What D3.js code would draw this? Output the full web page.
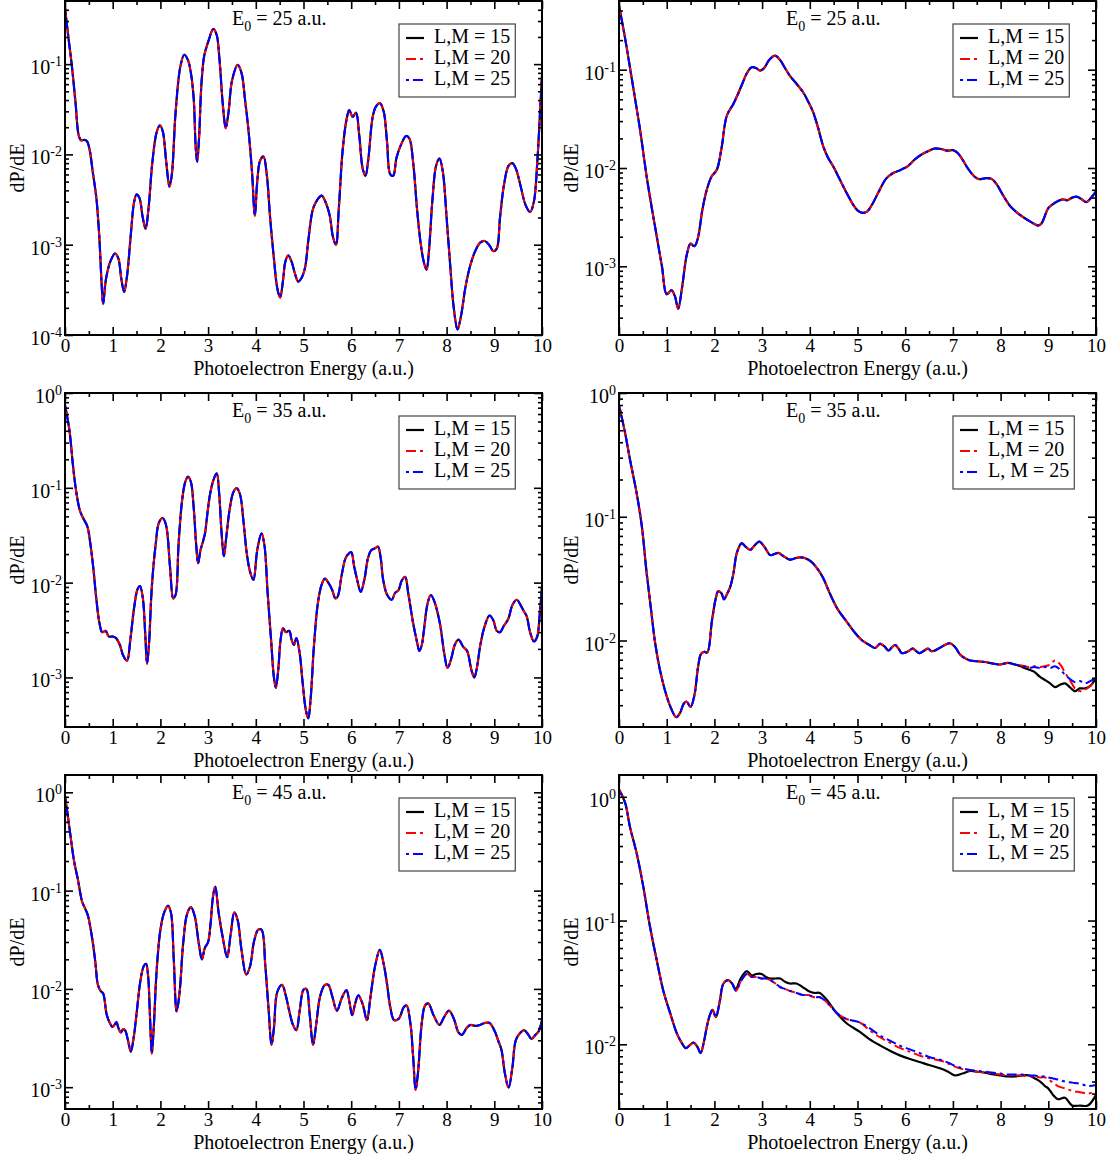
<!DOCTYPE html>
<html>
<head>
<meta charset="utf-8">
<script src="https://cdn.jsdelivr.net/npm/d3@7"></script>
<style>
  body { margin: 0; background: #fff; }
  svg { display: block; }
  text { font-family: "Liberation Serif", "Times New Roman", Times, serif; fill: #000; }
</style>
</head>
<body>
<svg id="fig" width="1108" height="1155"></svg>
<script>
// ---------- photoelectron spectra dP/dE vs energy (a.u.) ----------

// E0 = 25 a.u., left column: the three L,M runs coincide
const specA = [
  [0.00,0.42],[0.07,0.20],[0.14,0.100],[0.22,0.038],[0.29,0.016],[0.34,0.0143],[0.40,0.0145],[0.46,0.0140],
  [0.52,0.0110],[0.58,0.0065],[0.66,0.0032],[0.72,0.0012],[0.77,0.00035],[0.80,0.00022],[0.84,0.00035],
  [0.87,0.00045],[0.95,0.00065],[1.05,0.00080],[1.12,0.00070],[1.18,0.00042],[1.24,0.00030],[1.30,0.00045],
  [1.38,0.0013],[1.45,0.0030],[1.50,0.0036],[1.56,0.0033],[1.63,0.0020],[1.69,0.0015],[1.75,0.0025],
  [1.83,0.0080],[1.92,0.0175],[1.99,0.021],[2.05,0.018],[2.12,0.0085],[2.19,0.0044],[2.24,0.0060],
  [2.32,0.030],[2.42,0.095],[2.50,0.127],[2.58,0.110],[2.65,0.073],[2.70,0.040],[2.74,0.012],[2.77,0.0083],
  [2.81,0.015],[2.86,0.060],[2.92,0.125],[3.00,0.175],[3.11,0.245],[3.18,0.210],[3.24,0.110],[3.31,0.035],
  [3.37,0.0195],[3.43,0.030],[3.50,0.065],[3.62,0.098],[3.70,0.080],[3.78,0.038],[3.84,0.020],[3.92,0.0065],
  [3.98,0.0021],[4.03,0.0050],[4.09,0.0085],[4.16,0.0095],[4.23,0.0060],[4.30,0.0020],[4.38,0.0007],
  [4.45,0.00033],[4.51,0.00026],[4.57,0.00040],[4.62,0.00065],[4.68,0.00076],[4.75,0.00065],[4.82,0.00048],
  [4.89,0.00039],[4.95,0.00042],[5.03,0.00055],[5.10,0.0011],[5.20,0.0025],[5.30,0.0032],[5.38,0.0035],
  [5.47,0.0029],[5.55,0.0021],[5.62,0.0012],[5.68,0.0010],[5.74,0.0025],[5.82,0.011],[5.90,0.024],
  [5.96,0.031],[6.03,0.026],[6.10,0.029],[6.17,0.016],[6.24,0.0070],[6.30,0.0058],[6.36,0.0090],
  [6.45,0.026],[6.52,0.034],[6.60,0.037],[6.68,0.030],[6.75,0.014],[6.82,0.0060],[6.88,0.0058],
  [6.95,0.0092],[7.05,0.013],[7.15,0.016],[7.22,0.015],[7.30,0.0080],[7.38,0.0025],[7.45,0.0011],
  [7.52,0.00065],[7.58,0.00053],[7.63,0.00085],[7.70,0.0030],[7.78,0.0075],[7.85,0.0090],[7.92,0.0065],
  [8.00,0.0020],[8.08,0.00055],[8.15,0.00020],[8.23,0.000115],[8.30,0.00016],[8.40,0.00035],[8.50,0.00060],
  [8.60,0.00085],[8.70,0.00105],[8.80,0.0011],[8.90,0.00098],[8.98,0.00085],[9.05,0.0009],[9.12,0.0020],
  [9.20,0.0045],[9.30,0.0075],[9.38,0.0080],[9.45,0.0070],[9.55,0.0045],[9.65,0.0028],[9.75,0.0023],
  [9.83,0.0030],[9.90,0.0080],[9.96,0.030],[10.0,0.076]
];

// E0 = 25 a.u., right column
const specB = [
  [0.00,0.45],[0.13,0.206],[0.27,0.080],[0.44,0.0247],[0.59,0.0076],[0.80,0.0019],[0.90,0.0010],
  [1.00,0.00052],[1.10,0.00057],[1.17,0.00050],[1.24,0.00037],[1.32,0.0006],[1.42,0.0013],[1.50,0.0017],
  [1.58,0.0016],[1.65,0.0019],[1.75,0.0038],[1.84,0.0060],[1.94,0.0082],[2.05,0.0096],[2.15,0.016],
  [2.26,0.034],[2.40,0.045],[2.57,0.069],[2.68,0.092],[2.78,0.106],[2.87,0.104],[2.96,0.098],[3.05,0.105],
  [3.15,0.126],[3.27,0.139],[3.38,0.125],[3.48,0.104],[3.58,0.087],[3.72,0.072],[3.86,0.059],[3.96,0.048],
  [4.07,0.037],[4.18,0.025],[4.28,0.0167],[4.38,0.0128],[4.49,0.0104],[4.62,0.0078],[4.77,0.0056],
  [4.90,0.0043],[5.00,0.0037],[5.10,0.0035],[5.20,0.0036],[5.30,0.0042],[5.45,0.0058],[5.60,0.0078],
  [5.75,0.0089],[5.85,0.0093],[5.95,0.0098],[6.05,0.0104],[6.20,0.0122],[6.35,0.0138],[6.50,0.0150],
  [6.62,0.0158],[6.75,0.0156],[6.88,0.0150],[7.00,0.0152],[7.10,0.0142],[7.20,0.0122],[7.32,0.0098],
  [7.45,0.0082],[7.55,0.0077],[7.70,0.0079],[7.82,0.0077],[7.92,0.0068],[8.05,0.0053],[8.20,0.0041],
  [8.35,0.0035],[8.50,0.0031],[8.65,0.0028],[8.78,0.0026],[8.85,0.0027],[9.00,0.0039],[9.10,0.0043],
  [9.20,0.0046],[9.30,0.0048],[9.40,0.0047],[9.50,0.0050],[9.60,0.0051],[9.70,0.0048],[9.80,0.0045],
  [9.90,0.0050],[10.0,0.0058]
];

// E0 = 35 a.u., left column
const specC = [
  [0.00,0.75],[0.05,0.55],[0.10,0.38],[0.17,0.167],[0.23,0.095],[0.31,0.058],[0.38,0.048],[0.47,0.039],
  [0.53,0.026],[0.59,0.0148],[0.66,0.0065],[0.72,0.0038],[0.78,0.0030],[0.85,0.0031],[0.92,0.0027],
  [1.00,0.0027],[1.07,0.0026],[1.15,0.0022],[1.22,0.0017],[1.30,0.0015],[1.37,0.0025],[1.45,0.0055],
  [1.52,0.0085],[1.57,0.0092],[1.63,0.0070],[1.68,0.0030],[1.72,0.0014],[1.76,0.0022],[1.82,0.0090],
  [1.90,0.025],[1.97,0.043],[2.05,0.048],[2.12,0.040],[2.20,0.015],[2.27,0.0068],[2.32,0.0075],
  [2.38,0.025],[2.45,0.070],[2.52,0.115],[2.58,0.131],[2.64,0.115],[2.70,0.060],[2.75,0.025],[2.79,0.016],
  [2.84,0.022],[2.90,0.028],[2.94,0.034],[2.97,0.046],[3.04,0.085],[3.11,0.120],[3.18,0.142],[3.23,0.090],
  [3.28,0.035],[3.33,0.019],[3.38,0.030],[3.46,0.063],[3.53,0.090],[3.60,0.099],[3.67,0.085],[3.74,0.045],
  [3.81,0.0205],[3.88,0.013],[3.95,0.0107],[4.03,0.022],[4.12,0.033],[4.18,0.025],[4.25,0.0075],
  [4.32,0.0025],[4.38,0.0010],[4.42,0.00078],[4.47,0.0012],[4.52,0.0025],[4.57,0.0033],[4.63,0.0030],
  [4.70,0.0031],[4.75,0.0025],[4.80,0.0022],[4.85,0.0026],[4.92,0.0018],[4.98,0.0009],[5.05,0.00045],
  [5.10,0.00037],[5.15,0.0006],[5.22,0.0022],[5.30,0.0060],[5.38,0.0095],[5.45,0.011],[5.53,0.0098],
  [5.60,0.0084],[5.67,0.0068],[5.72,0.0072],[5.80,0.012],[5.88,0.018],[5.94,0.020],[6.00,0.021],
  [6.06,0.015],[6.12,0.011],[6.20,0.0080],[6.28,0.011],[6.35,0.018],[6.42,0.022],[6.50,0.023],[6.56,0.024],
  [6.62,0.018],[6.67,0.0107],[6.75,0.0075],[6.85,0.0066],[6.92,0.0078],[6.99,0.0083],[7.06,0.0105],
  [7.13,0.0115],[7.20,0.0075],[7.30,0.0037],[7.37,0.0025],[7.43,0.0019],[7.48,0.0022],[7.52,0.0030],
  [7.60,0.0060],[7.67,0.0074],[7.75,0.0062],[7.86,0.0037],[7.95,0.0018],[8.02,0.00126],[8.10,0.0016],
  [8.17,0.0022],[8.25,0.0025],[8.35,0.0021],[8.43,0.0019],[8.52,0.0012],[8.58,0.0010],[8.64,0.0013],
  [8.70,0.0021],[8.80,0.0035],[8.90,0.0045],[8.98,0.0040],[9.05,0.0031],[9.12,0.0030],[9.20,0.0035],
  [9.29,0.0041],[9.38,0.0058],[9.47,0.0066],[9.55,0.0058],[9.62,0.0050],[9.68,0.0044],[9.75,0.0030],
  [9.83,0.0024],[9.90,0.0027],[9.95,0.0045],[10.0,0.0090]
];

// E0 = 35 a.u., right column: runs separate above ~8.3 a.u.
const energyD = [0.00,0.13,0.23,0.37,0.48,0.58,0.67,0.75,0.85,0.96,1.08,1.20,1.28,1.36,1.42,1.50,1.58,1.66,1.72,1.79,
  1.85,1.95,2.03,2.08,2.15,2.20,2.27,2.33,2.40,2.47,2.57,2.66,2.75,2.85,2.94,3.05,3.17,3.26,3.34,3.45,
  3.58,3.68,3.79,3.92,4.04,4.18,4.28,4.42,4.58,4.75,4.95,5.10,5.25,5.37,5.47,5.56,5.65,5.72,5.79,5.86,
  5.93,6.04,6.16,6.23,6.30,6.40,6.48,6.55,6.62,6.72,6.83,6.94,7.05,7.15,7.25,7.36,7.50,7.67,7.85,8.00,
  8.15,8.30,8.42,8.50,8.60,8.70,8.82,8.93,9.04,9.14,9.25,9.35,9.45,9.56,9.66,9.77,9.88,10.0];
const dpD15 = [0.80,0.47,0.29,0.155,0.083,0.035,0.018,0.010,0.0060,0.0040,0.0029,0.0024,0.0026,0.0031,0.0032,0.0029,0.0036,0.0062,0.0078,0.0081,
  0.0080,0.0146,0.022,0.025,0.024,0.0215,0.024,0.027,0.035,0.051,0.061,0.057,0.054,0.059,0.063,0.057,0.049,0.050,0.051,0.048,
  0.045,0.046,0.047,0.046,0.043,0.037,0.032,0.024,0.018,0.0146,0.0115,0.0100,0.0092,0.0087,0.0094,0.0090,0.0083,0.0088,0.0092,0.0086,
  0.0079,0.0081,0.0086,0.0082,0.0079,0.0083,0.0086,0.0082,0.0083,0.0087,0.0092,0.0095,0.0088,0.0077,0.0072,0.0069,0.0068,0.0067,0.0065,0.0064,
  0.0066,0.0064,0.0062,0.0060,0.0058,0.0056,0.0051,0.0048,0.0045,0.0042,0.0044,0.0045,0.0042,0.0039,0.0041,0.0041,0.0043,0.0050];
const dpD20 = [0.80,0.47,0.29,0.155,0.083,0.035,0.018,0.010,0.0060,0.0040,0.0029,0.0024,0.0026,0.0031,0.0032,0.0029,0.0036,0.0062,0.0078,0.0081,
  0.0080,0.0146,0.022,0.025,0.024,0.0215,0.024,0.027,0.035,0.051,0.061,0.057,0.054,0.059,0.063,0.057,0.049,0.050,0.051,0.048,
  0.045,0.046,0.047,0.046,0.043,0.037,0.032,0.024,0.018,0.0146,0.0115,0.0100,0.0092,0.0087,0.0094,0.0090,0.0083,0.0088,0.0092,0.0086,
  0.0079,0.0081,0.0086,0.0082,0.0079,0.0083,0.0086,0.0082,0.0083,0.0087,0.0092,0.0095,0.0088,0.0077,0.0072,0.0069,0.0068,0.0067,0.0065,0.0064,
  0.0066,0.0064,0.0063,0.0062,0.0061,0.0062,0.0061,0.0062,0.0064,0.0069,0.0064,0.0055,0.0048,0.0041,0.0039,0.0040,0.0043,0.0048];
const dpD25 = [0.80,0.47,0.29,0.155,0.083,0.035,0.018,0.010,0.0060,0.0040,0.0029,0.0024,0.0026,0.0031,0.0032,0.0029,0.0036,0.0062,0.0078,0.0081,
  0.0080,0.0146,0.022,0.025,0.024,0.0215,0.024,0.027,0.035,0.051,0.061,0.057,0.054,0.059,0.063,0.057,0.049,0.050,0.051,0.048,
  0.045,0.046,0.047,0.046,0.043,0.037,0.032,0.024,0.018,0.0146,0.0115,0.0100,0.0092,0.0087,0.0094,0.0090,0.0083,0.0088,0.0092,0.0086,
  0.0079,0.0081,0.0086,0.0082,0.0079,0.0083,0.0086,0.0082,0.0083,0.0087,0.0092,0.0095,0.0088,0.0077,0.0072,0.0069,0.0068,0.0067,0.0065,0.0064,
  0.0066,0.0064,0.0063,0.0062,0.0060,0.0061,0.0060,0.0061,0.0060,0.0062,0.0058,0.0053,0.0049,0.0046,0.0047,0.0045,0.0047,0.0050];

// E0 = 45 a.u., left column
const specE = [
  [0.00,0.92],[0.05,0.62],[0.10,0.41],[0.19,0.20],[0.27,0.13],[0.36,0.077],[0.42,0.066],[0.48,0.056],
  [0.54,0.040],[0.59,0.028],[0.64,0.018],[0.69,0.011],[0.75,0.0095],[0.80,0.0090],[0.87,0.0056],
  [0.93,0.0046],[1.00,0.0041],[1.05,0.0044],[1.08,0.0046],[1.12,0.0040],[1.17,0.0036],[1.22,0.0039],
  [1.26,0.0038],[1.32,0.0030],[1.38,0.0023],[1.44,0.0032],[1.50,0.0056],[1.58,0.012],[1.65,0.017],
  [1.70,0.018],[1.74,0.014],[1.78,0.0055],[1.82,0.0022],[1.86,0.0040],[1.92,0.015],[2.00,0.040],
  [2.08,0.060],[2.16,0.070],[2.22,0.060],[2.28,0.020],[2.34,0.0059],[2.40,0.0090],[2.48,0.030],
  [2.56,0.058],[2.64,0.068],[2.72,0.055],[2.80,0.030],[2.87,0.020],[2.93,0.026],[3.00,0.030],[3.05,0.045],
  [3.10,0.085],[3.15,0.110],[3.22,0.060],[3.30,0.035],[3.40,0.021],[3.47,0.035],[3.55,0.060],[3.62,0.050],
  [3.70,0.025],[3.80,0.014],[3.88,0.017],[3.96,0.030],[4.05,0.040],[4.12,0.040],[4.20,0.017],[4.27,0.0060],
  [4.33,0.0027],[4.38,0.0040],[4.45,0.0093],[4.55,0.011],[4.63,0.0085],[4.70,0.0060],[4.78,0.0043],
  [4.85,0.0038],[4.92,0.0060],[5.00,0.0098],[5.06,0.010],[5.13,0.0055],[5.20,0.0027],[5.27,0.0045],
  [5.35,0.0085],[5.45,0.011],[5.52,0.011],[5.60,0.0085],[5.70,0.0060],[5.80,0.0080],[5.90,0.0097],
  [5.96,0.0075],[6.02,0.0054],[6.08,0.0070],[6.15,0.0086],[6.24,0.0070],[6.33,0.0048],[6.40,0.0080],
  [6.50,0.017],[6.60,0.025],[6.68,0.018],[6.75,0.0113],[6.82,0.0065],[6.90,0.0048],[7.00,0.0050],
  [7.10,0.0065],[7.16,0.0068],[7.24,0.0045],[7.30,0.0020],[7.35,0.00094],[7.40,0.0014],[7.48,0.0045],
  [7.55,0.0068],[7.62,0.0071],[7.72,0.0055],[7.85,0.0043],[7.95,0.0052],[8.05,0.0060],[8.15,0.0050],
  [8.25,0.0036],[8.32,0.0034],[8.42,0.0040],[8.50,0.0043],[8.60,0.0042],[8.70,0.0043],[8.80,0.0045],
  [8.90,0.0045],[9.00,0.0038],[9.08,0.0030],[9.15,0.0024],[9.22,0.0014],[9.30,0.00099],[9.38,0.0016],
  [9.45,0.0030],[9.55,0.0036],[9.62,0.0038],[9.70,0.0035],[9.78,0.0031],[9.86,0.0034],[9.93,0.0037],
  [10.0,0.0048]
];

// E0 = 45 a.u., right column: runs separate above ~2.4 a.u.
const energyF = [0.00,0.13,0.23,0.37,0.51,0.65,0.79,0.93,1.07,1.21,1.30,1.40,1.48,1.56,1.64,1.71,1.78,1.84,1.90,1.96,
  2.03,2.11,2.19,2.29,2.37,2.45,2.55,2.68,2.78,2.88,2.99,3.08,3.17,3.28,3.38,3.48,3.58,3.72,3.85,3.97,
  4.09,4.21,4.35,4.56,4.77,5.05,5.25,5.47,5.70,5.90,6.10,6.30,6.50,6.73,6.90,7.04,7.20,7.36,7.52,7.67,
  7.85,8.00,8.15,8.30,8.45,8.60,8.72,8.83,8.93,9.00,9.10,9.20,9.35,9.50,9.67,9.83,10.0];
const dpF15 = [1.15,0.89,0.57,0.35,0.187,0.089,0.048,0.027,0.018,0.0123,0.0105,0.0093,0.0098,0.0103,0.0096,0.0085,0.0105,0.0138,0.0170,0.0190,
  0.0166,0.022,0.031,0.033,0.031,0.028,0.034,0.039,0.036,0.037,0.037,0.035,0.034,0.034,0.034,0.032,0.031,0.031,0.029,0.027,
  0.026,0.026,0.023,0.018,0.0148,0.0126,0.0110,0.0098,0.0088,0.0081,0.0076,0.0072,0.0068,0.0064,0.0060,0.0056,0.0058,0.0061,0.0060,0.0059,
  0.0057,0.0056,0.0055,0.0055,0.0056,0.0056,0.0053,0.0050,0.0046,0.0044,0.0039,0.0036,0.0037,0.0032,0.0032,0.0032,0.0039];
const dpF20 = [1.15,0.89,0.57,0.35,0.187,0.089,0.048,0.027,0.018,0.0123,0.0105,0.0093,0.0098,0.0103,0.0096,0.0085,0.0105,0.0138,0.0170,0.0190,
  0.0166,0.022,0.031,0.033,0.031,0.027,0.032,0.037,0.035,0.035,0.034,0.034,0.033,0.031,0.029,0.028,0.027,0.026,0.025,0.025,
  0.024,0.024,0.022,0.018,0.016,0.015,0.013,0.0114,0.0102,0.0093,0.0087,0.0081,0.0077,0.0074,0.0070,0.0066,0.0063,0.0061,0.0060,0.0059,
  0.0058,0.0057,0.0056,0.0056,0.0056,0.0055,0.0055,0.0054,0.0054,0.0052,0.0049,0.0046,0.0044,0.0042,0.0041,0.0040,0.0042];
const dpF25 = [1.15,0.89,0.57,0.35,0.187,0.089,0.048,0.027,0.018,0.0123,0.0105,0.0093,0.0098,0.0103,0.0096,0.0085,0.0105,0.0138,0.0170,0.0190,
  0.0166,0.022,0.031,0.033,0.031,0.027,0.032,0.037,0.035,0.035,0.034,0.034,0.033,0.031,0.029,0.028,0.027,0.026,0.025,0.025,
  0.024,0.024,0.022,0.018,0.016,0.015,0.0135,0.0118,0.0106,0.0097,0.0091,0.0085,0.0079,0.0075,0.0071,0.0067,0.0064,0.0062,0.0061,0.0060,
  0.0059,0.0058,0.0057,0.0057,0.0057,0.0056,0.0056,0.0055,0.0055,0.0054,0.0053,0.0052,0.0050,0.0049,0.0048,0.0046,0.0047];

// legend texts and axis labels
const legendPlain  = ["L,M = 15", "L,M = 20", "L,M = 25"];
const legendMixed  = ["L,M = 15", "L,M = 20", "L, M = 25"];
const legendSpaced = ["L, M = 15", "L, M = 20", "L, M = 25"];
const xTickValues = [0, 1, 2, 3, 4, 5, 6, 7, 8, 9, 10];
const xMinorValues = [0.5, 1.5, 2.5, 3.5, 4.5, 5.5, 6.5, 7.5, 8.5, 9.5];
const xTitle = "Photoelectron Energy (a.u.)";
const yTitle = "dP/dE";

const zipPairs = (e, v) => e.map((d, i) => [d, v[i]]);

const panels = [
  { id: "a", col: 0, row: 0, e0: "25", yDomain: [1e-4, 0.5], series: [specA, specA, specA], legend: legendPlain },
  { id: "b", col: 1, row: 0, e0: "25", yDomain: [2e-4, 0.5], series: [specB, specB, specB], legend: legendPlain },
  { id: "c", col: 0, row: 1, e0: "35", yDomain: [3e-4, 1],   series: [specC, specC, specC], legend: legendPlain },
  { id: "d", col: 1, row: 1, e0: "35", yDomain: [2e-3, 1],
    series: [zipPairs(energyD, dpD15), zipPairs(energyD, dpD20), zipPairs(energyD, dpD25)], legend: legendMixed },
  { id: "e", col: 0, row: 2, e0: "45", yDomain: [6e-4, 1.5], series: [specE, specE, specE], legend: legendPlain },
  { id: "f", col: 1, row: 2, e0: "45", yDomain: [3e-3, 1.5],
    series: [zipPairs(energyF, dpF15), zipPairs(energyF, dpF20), zipPairs(energyF, dpF25)], legend: legendSpaced }
];

// ---------- layout & styles ----------
const columns = [{ x0: 65, x1: 542 }, { x0: 619, x1: 1096 }];
const rows = [{ y0: 1, y1: 335 }, { y0: 393, y1: 727 }, { y0: 775, y1: 1109 }];
const styles = [
  { color: "#000000", width: 2.2, dash: null, offset: 0 },
  { color: "#ff0000", width: 2.0, dash: "10,4,3,4", offset: 0 },
  { color: "#0000ff", width: 2.0, dash: "3,4,10,4", offset: -4 }
];
const FS = 20;      // titles, legend, y tick labels
const FS_TICK = 19; // x tick labels

const svg = d3.select("#fig");

function logTicks(domain) {
  const [lo, hi] = domain;
  const majors = [], minors = [];
  for (let n = Math.floor(Math.log10(lo)) - 1; n <= Math.ceil(Math.log10(hi)); n++) {
    const p = Math.pow(10, n);
    if (p >= lo * 0.999 && p <= hi * 1.001) majors.push(p);
    for (let k = 2; k <= 9; k++) {
      const v = k * p;
      if (v > lo * 1.001 && v < hi * 0.999) minors.push(v);
    }
  }
  return { majors, minors };
}

function styleAxis(g) {
  g.select(".domain").remove();
  g.selectAll("line").attr("stroke", "#000").attr("stroke-width", 1.6);
  g.selectAll("text").attr("font-family", null).attr("font-size", FS_TICK).attr("fill", "#000");
}

function drawPanel(p) {
  const { x0, x1 } = columns[p.col];
  const { y0, y1 } = rows[p.row];
  const x = d3.scaleLinear().domain([0, 10]).range([x0, x1]);
  const y = d3.scaleLog().domain(p.yDomain).range([y1, y0]);
  const g = svg.append("g").attr("class", "panel-" + p.id);

  const clipId = "clip-" + p.id;
  g.append("clipPath").attr("id", clipId)
    .append("rect").attr("x", x0).attr("y", y0).attr("width", x1 - x0).attr("height", y1 - y0);

  // curves
  const line = d3.line()
    .x(d => x(d[0]))
    .y(d => y(d[1]))
    .curve(d3.curveCatmullRom.alpha(0.5));
  const curves = g.append("g").attr("clip-path", `url(#${clipId})`);
  p.series.forEach((s, i) => {
    const st = styles[i];
    curves.append("path")
      .attr("d", line(s))
      .attr("fill", "none")
      .attr("stroke", st.color)
      .attr("stroke-width", st.width)
      .attr("stroke-linejoin", "round")
      .attr("stroke-dasharray", st.dash)
      .attr("stroke-dashoffset", st.offset);
  });

  const { majors, minors } = logTicks(p.yDomain);

  // x axes (bottom with labels, top mirrored), ticks pointing inward
  g.append("g").attr("transform", `translate(0,${y1})`)
    .call(d3.axisBottom(x).tickValues(xTickValues).tickSize(-8).tickSizeOuter(0).tickPadding(4).tickFormat(d3.format("d")))
    .call(styleAxis);
  g.append("g").attr("transform", `translate(0,${y1})`)
    .call(d3.axisBottom(x).tickValues(xMinorValues).tickSize(-4).tickSizeOuter(0).tickFormat(""))
    .call(styleAxis);
  g.append("g").attr("transform", `translate(0,${y0})`)
    .call(d3.axisTop(x).tickValues(xTickValues).tickSize(-8).tickSizeOuter(0).tickFormat(""))
    .call(styleAxis);
  g.append("g").attr("transform", `translate(0,${y0})`)
    .call(d3.axisTop(x).tickValues(xMinorValues).tickSize(-4).tickSizeOuter(0).tickFormat(""))
    .call(styleAxis);

  // y axes (left and right), log ticks
  g.append("g").attr("transform", `translate(${x0},0)`)
    .call(d3.axisLeft(y).tickValues(majors).tickSize(-8).tickSizeOuter(0).tickFormat(""))
    .call(styleAxis);
  g.append("g").attr("transform", `translate(${x0},0)`)
    .call(d3.axisLeft(y).tickValues(minors).tickSize(-4).tickSizeOuter(0).tickFormat(""))
    .call(styleAxis);
  g.append("g").attr("transform", `translate(${x1},0)`)
    .call(d3.axisRight(y).tickValues(majors).tickSize(-8).tickSizeOuter(0).tickFormat(""))
    .call(styleAxis);
  g.append("g").attr("transform", `translate(${x1},0)`)
    .call(d3.axisRight(y).tickValues(minors).tickSize(-4).tickSizeOuter(0).tickFormat(""))
    .call(styleAxis);

  // y tick labels as 10^n
  majors.forEach(v => {
    const t = g.append("text")
      .attr("x", x0 - 3)
      .attr("y", y(v) + 10)
      .attr("text-anchor", "end")
      .attr("font-size", FS);
    t.append("tspan").text("10");
    t.append("tspan").attr("dy", -8).attr("font-size", 14).text(String(Math.round(Math.log10(v))));
  });

  // frame
  g.append("rect")
    .attr("x", x0).attr("y", y0).attr("width", x1 - x0).attr("height", y1 - y0)
    .attr("fill", "none").attr("stroke", "#000").attr("stroke-width", 2);

  // axis titles
  g.append("text")
    .attr("x", (x0 + x1) / 2).attr("y", y1 + 39.5)
    .attr("text-anchor", "middle").attr("font-size", FS)
    .text(xTitle);
  g.append("text")
    .attr("transform", `translate(${x0 - 41},${(y0 + y1) / 2}) rotate(-90)`)
    .attr("text-anchor", "middle").attr("font-size", FS)
    .text(yTitle);

  // panel title E0 = ... a.u.
  const title = g.append("text").attr("x", x0 + 167).attr("y", y0 + 24).attr("font-size", FS);
  title.append("tspan").text("E");
  title.append("tspan").attr("dy", 6).attr("font-size", 14).text("0");
  title.append("tspan").attr("dy", -6).text(` = ${p.e0} a.u.`);

  // legend
  const bx = x0 + 334, by = y0 + 23;
  const lg = g.append("g");
  const box = lg.append("rect").attr("x", bx).attr("y", by).attr("height", 73)
    .attr("fill", "#fff").attr("stroke", "#444").attr("stroke-width", 1.2);
  let maxW = 0;
  p.legend.forEach((label, i) => {
    const base = by + 19 + i * 21;
    const st = styles[i];
    lg.append("line")
      .attr("x1", bx + 7).attr("x2", bx + 25)
      .attr("y1", base - 5).attr("y2", base - 5)
      .attr("stroke", st.color).attr("stroke-width", st.width)
      .attr("stroke-dasharray", st.dash);
    const t = lg.append("text").attr("x", bx + 35).attr("y", base).attr("font-size", FS).text(label);
    maxW = Math.max(maxW, t.node().getComputedTextLength());
  });
  box.attr("width", 35 + maxW + 5);
}

panels.forEach(drawPanel);
</script>
</body>
</html>
